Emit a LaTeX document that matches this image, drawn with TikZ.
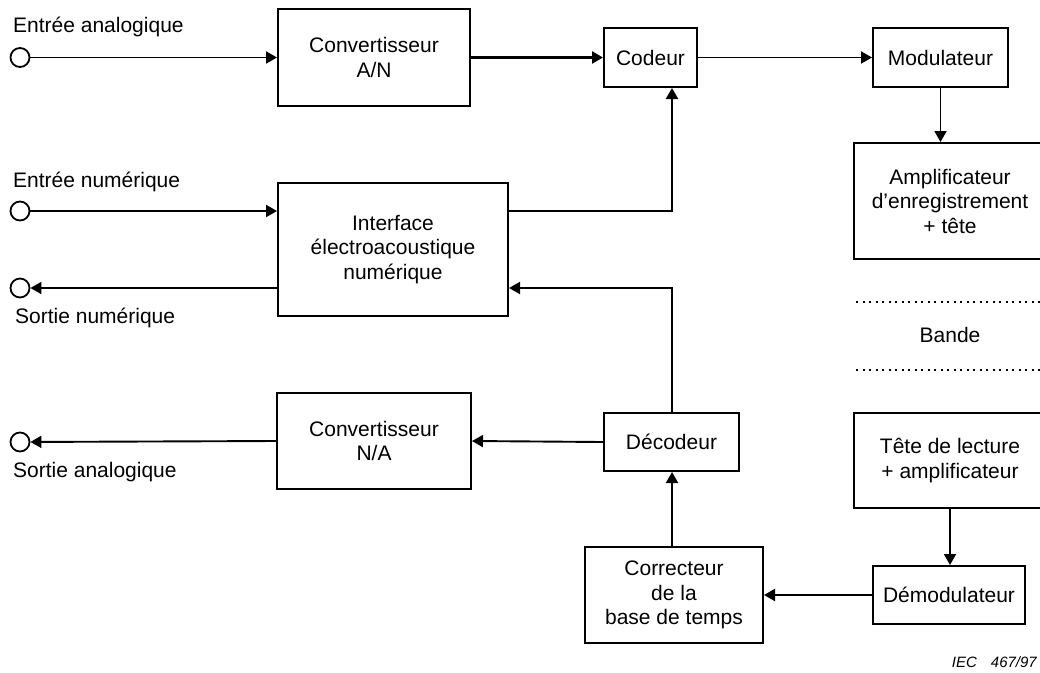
\documentclass[tikz,border=0pt]{standalone}
\usepackage{fontspec}
\setmainfont{Liberation Sans}
\usetikzlibrary{arrows.meta}
\begin{document}
\begin{tikzpicture}[x=1pt,y=-1pt,
  blk/.style={draw,line width=2pt,inner sep=0pt,align=center,font=\fontsize{21}{24.5}\selectfont},
  conn/.style={line width=1.9pt,-{Triangle[length=11pt,width=12pt]}},
  term/.style={draw,circle,line width=1.8pt,minimum size=19pt,inner sep=0pt},
  lbl/.style={font=\fontsize{21}{24}\selectfont,inner sep=0pt},
  band/.style={line width=2.1pt,dash pattern=on 2.1pt off 4.4pt}]
\clip (0,0) rectangle (1040,672);
\fill[white] (0,0) rectangle (1040,672);
% blocks
\node[blk,minimum width=192pt,minimum height=97pt] (an) at (374,57.5) {Convertisseur\\A/N};
\node[blk,minimum width=93pt,minimum height=59pt] (cod) at (650.5,57.5) {Codeur};
\node[blk,minimum width=135pt,minimum height=59pt] (mod) at (940.5,57.5) {Modulateur};
\node[blk,minimum width=192pt,minimum height=116pt] (amp) at (950,201) {Amplificateur\\d’enregistrement\\+ tête};
\node[blk,minimum width=230pt,minimum height=133pt] (itf) at (393,249.5) {Interface\\électroacoustique\\numérique};
\node[blk,minimum width=194pt,minimum height=96pt] (na) at (374,441) {Convertisseur\\N/A};
\node[blk,minimum width=135pt,minimum height=58pt] (dec) at (671.5,442) {Décodeur};
\node[blk,minimum width=192pt,minimum height=95pt] (tete) at (950,460.5) {Tête de lecture\\+ amplificateur};
\node[blk,minimum width=152pt,minimum height=58pt] (dem) at (949,595) {Démodulateur};
\node[blk,minimum width=178pt,minimum height=96pt] (cor) at (674,595) {Correcteur\\de la\\base de temps};
% terminals
\node[term] (inA) at (20,57.5) {};
\node[term] (inN) at (20,211) {};
\node[term] (outN) at (20,288) {};
\node[term] (outA) at (20,442) {};
% labels
\node[lbl,anchor=base west] (lInA) at (13,32) {Entrée analogique};
\node[lbl,anchor=base west] (lInN) at (13,187) {Entrée numérique};
\node[lbl,anchor=base west] (lOutN) at (15,323) {Sortie numérique};
\node[lbl,anchor=base west] (lOutA) at (13,477) {Sortie analogique};
\node[lbl,anchor=center] (bande) at (950,335) {Bande};
\node[inner sep=0pt,anchor=base east,font=\fontsize{15}{17}\selectfont\itshape] (iec) at (1037,667) {IEC\hspace{14pt}467/97};
% band lines
\coordinate (b1) at (856,302);
\coordinate (b2) at (1040,302);
\coordinate (b3) at (856,370);
\coordinate (b4) at (1040,370);
\draw[band] (b1) -- (b2);
\draw[band] (b3) -- (b4);
% junction column
\coordinate (jc) at (672,0);
\coordinate (rowIn) at (0,211);
\coordinate (rowOut) at (0,288);
% connectors
\draw[conn] (inA) -- (an.west);
\draw[conn,line width=2.3pt] (an.east) -- (cod.west);
\draw[conn] (cod.east) -- (mod.west);
\draw[conn] (mod.south) -- (mod.south |- amp.north);
\draw[conn] (inN) -- (inN -| itf.west);
\draw[conn] (rowOut -| itf.west) -- (outN);
\draw[conn,line width=2.3pt] (rowIn -| itf.east) -| (jc |- cod.south);
\draw[conn] (jc |- dec.north) |- (rowOut -| itf.east);
\draw[conn] (dec.west) -- (na.east);
\draw[conn] (na.west) -- (outA);
\draw[conn] (jc |- cor.north) -- (jc |- dec.south);
\draw[conn] (tete.south) -- (tete.south |- dem.north);
\draw[conn] (dem.west) -- (cor.east);
\end{tikzpicture}
\end{document}
